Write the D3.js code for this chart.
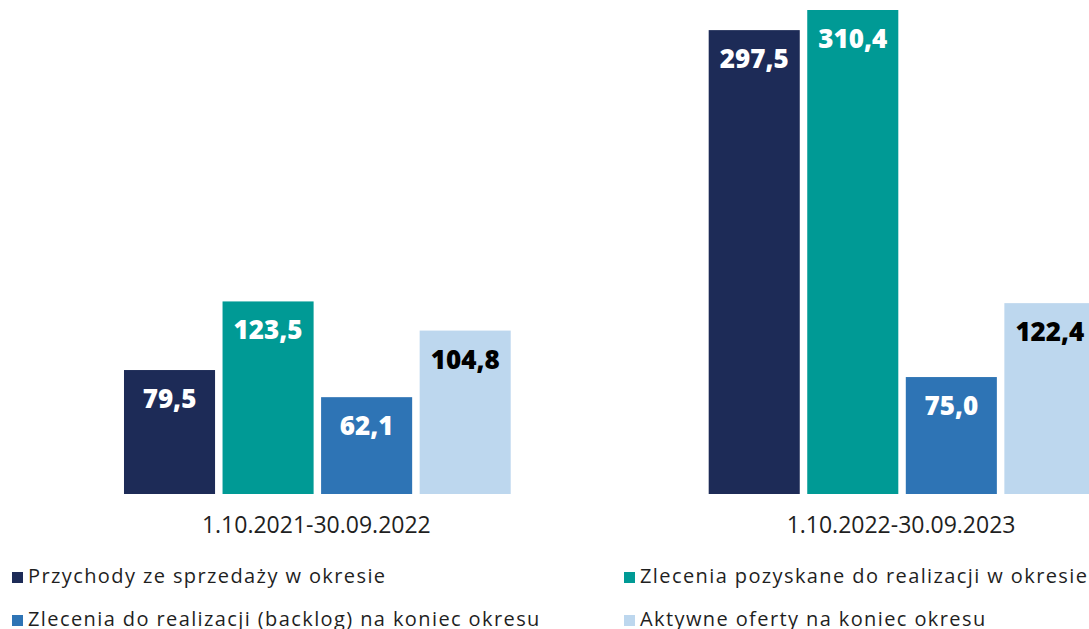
<!DOCTYPE html>
<html>
<head>
<meta charset="utf-8">
<script src="https://cdn.jsdelivr.net/npm/d3@7"></script>
<style>
  html, body { margin: 0; padding: 0; background: #fff; overflow: hidden; }
  svg { display: block; }
</style>
</head>
<body>
<div id="chart"></div>
<script>
  // data
  var PERIODS = ['1.10.2021-30.09.2022', '1.10.2022-30.09.2023'];
  var SERIES = [
    'Przychody ze sprzedaży w okresie',
    'Zlecenia pozyskane do realizacji w okresie',
    'Zlecenia do realizacji (backlog) na koniec okresu',
    'Aktywne oferty na koniec okresu'
  ];
  var VALUES_2022 = [79.5, 123.5, 62.1, 104.8];
  var VALUES_2023 = [297.5, 310.4, 75.0, 122.4];

  var COLORS      = ['#1d2b57', '#009a95', '#2e74b5', '#bdd7ee'];
  var LABEL_FILL  = ['#ffffff', '#ffffff', '#ffffff', '#000000'];
  var TEXT_COLOR  = '#1f1f1f';
  var FONT        = '"Open Sans", "Noto Sans", sans-serif';

  var WIDTH = 1089, HEIGHT = 629;
  var BASELINE = 494;

  var rows = PERIODS.map(function (p, i) {
    return { period: p, values: i === 0 ? VALUES_2022 : VALUES_2023 };
  });

  var svg = d3.select('#chart').append('svg')
    .attr('width', WIDTH)
    .attr('height', HEIGHT);

  var x0 = d3.scaleBand()
    .domain(PERIODS)
    .range([25, 1194.4])
    .paddingInner(0.3386)
    .paddingOuter(0.1693);

  var x1 = d3.scaleBand()
    .domain(d3.range(SERIES.length))
    .range([0, x0.bandwidth()])
    .paddingInner(0.076)
    .paddingOuter(0);

  var y = d3.scaleLinear()
    .domain([0, 310.4])
    .range([BASELINE, 10]);

  var fmt = function (v) { return v.toFixed(1).replace('.', ','); };

  var groups = svg.selectAll('g.group')
    .data(rows)
    .enter().append('g')
    .attr('class', 'group')
    .attr('transform', function (d) { return 'translate(' + x0(d.period) + ',0)'; });

  groups.selectAll('rect')
    .data(function (d) { return d.values; })
    .enter().append('rect')
    .attr('x', function (d, i) { return x1(i); })
    .attr('y', function (d) { return y(d); })
    .attr('width', x1.bandwidth())
    .attr('height', function (d) { return BASELINE - y(d); })
    .attr('fill', function (d, i) { return COLORS[i]; });

  groups.selectAll('text.value')
    .data(function (d) { return d.values; })
    .enter().append('text')
    .attr('class', 'value')
    .attr('x', function (d, i) { return x1(i) + x1.bandwidth() / 2; })
    .attr('y', function (d) { return y(d) + 38; })
    .attr('text-anchor', 'middle')
    .attr('font-family', FONT)
    .attr('font-weight', 800)
    .attr('font-size', '26px')
    .attr('fill', function (d, i) { return LABEL_FILL[i]; })
    .text(fmt);

  // category labels under each group
  svg.selectAll('text.period')
    .data(PERIODS)
    .enter().append('text')
    .attr('class', 'period')
    .attr('x', function (d) { return x0(d) + x0.bandwidth() / 2 - 1; })
    .attr('y', 533)
    .attr('text-anchor', 'middle')
    .attr('font-family', FONT)
    .attr('font-size', '23px')
    .attr('fill', TEXT_COLOR)
    .text(function (d) { return d; });

  // legend, two columns x two rows
  var LEGEND_X = [12, 624];
  var LEGEND_Y = [583, 626];
  var legend = svg.append('g').attr('class', 'legend');
  SERIES.forEach(function (name, i) {
    var lx = LEGEND_X[i % 2];
    var ly = LEGEND_Y[Math.floor(i / 2)];
    legend.append('rect')
      .attr('x', lx).attr('y', ly - 11)
      .attr('width', 11).attr('height', 11)
      .attr('fill', COLORS[i]);
    legend.append('text')
      .attr('x', lx + 16).attr('y', ly)
      .attr('font-family', FONT)
      .attr('font-size', '20px')
      .attr('letter-spacing', '1.4px')
      .attr('fill', TEXT_COLOR)
      .text(name);
  });
</script>
</body>
</html>
